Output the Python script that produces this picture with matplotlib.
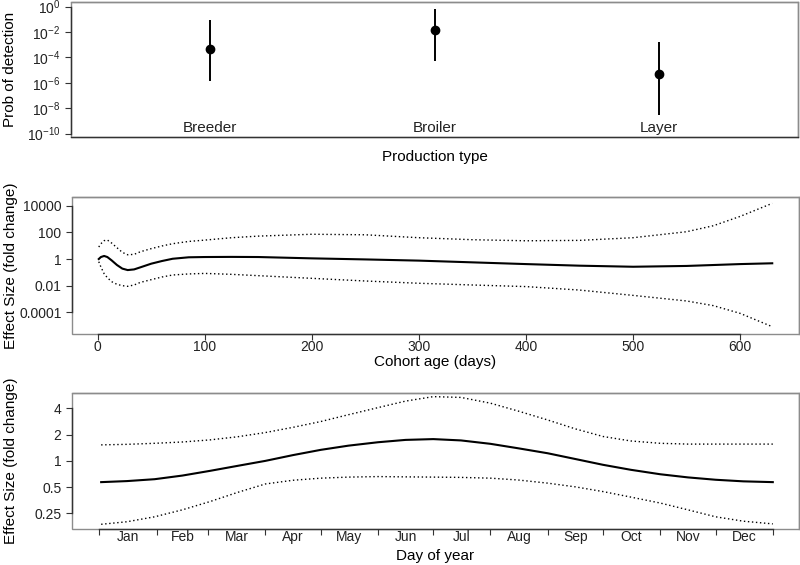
import numpy as np
import matplotlib
matplotlib.use("Agg")
import matplotlib.pyplot as plt
from matplotlib.patches import Rectangle
import matplotlib.transforms as mtransforms

plt.rcParams['font.family'] = ['Liberation Sans', 'DejaVu Sans']
plt.rcParams['mathtext.fontset'] = 'custom'
plt.rcParams['mathtext.rm'] = 'Liberation Sans'
plt.rcParams['mathtext.it'] = 'Liberation Sans'
plt.rcParams['mathtext.bf'] = 'Liberation Sans'

# ---------------- data ----------------
# Panel 1: probability of detection by production type
prod_types = ["Breeder", "Broiler", "Layer"]
prob_est = [4.7e-4, 1.5e-2, 5.0e-6]
prob_low = [1.5e-6, 5.2e-5, 3.0e-9]
prob_high = [8.9e-2, 6.3e-1, 1.6e-3]
prob_ticks = [1e0, 1e-2, 1e-4, 1e-6, 1e-8, 1e-10]
prob_ticklabels = [r"$10^{0}$", r"$10^{-2}$", r"$10^{-4}$", r"$10^{-6}$",
                   r"$10^{-8}$", r"$10^{-10}$"]

# Panel 2: cohort age effect (log10 fold change)
age_days = [1, 3, 6, 9, 13, 18, 23, 28, 34, 40, 50, 60, 70, 85, 100, 125,
            150, 200, 250, 300, 350, 400, 450, 500, 550, 575, 600, 630]
age_fit_log10 = [0.0, 0.15, 0.23, 0.15, -0.1, -0.45, -0.72, -0.83, -0.78,
                 -0.62, -0.35, -0.15, 0.02, 0.13, 0.15, 0.16, 0.15, 0.05,
                 -0.03, -0.12, -0.25, -0.38, -0.5, -0.58, -0.52, -0.45,
                 -0.38, -0.32]
age_upper_log10 = [0.9, 1.15, 1.38, 1.43, 1.2, 0.85, 0.5, 0.32, 0.35, 0.55,
                   0.78, 0.98, 1.15, 1.32, 1.42, 1.6, 1.72, 1.86, 1.82, 1.6,
                   1.45, 1.37, 1.4, 1.6, 2.05, 2.5, 3.2, 4.18]
age_lower_log10 = [-0.2, -0.6, -1.1, -1.4, -1.7, -1.9, -2.0, -2.05, -1.95,
                   -1.75, -1.55, -1.35, -1.2, -1.12, -1.08, -1.15, -1.25,
                   -1.45, -1.65, -1.82, -1.95, -2.07, -2.33, -2.73, -3.15,
                   -3.5, -4.08, -5.08]
age_ticks = [0, 100, 200, 300, 400, 500, 600]
age_yticks = [1e4, 1e2, 1, 1e-2, 1e-4]
age_yticklabels = ["10000", "100", "1", "0.01", "0.0001"]

# Panel 3: day-of-year effect (fold change)
doy = [1, 15, 30, 45, 60, 75, 90, 105, 120, 135, 151, 166, 181, 196, 212,
       227, 243, 258, 273, 288, 304, 319, 334, 349, 365]
doy_fit = [0.570, 0.586, 0.616, 0.678, 0.768, 0.877, 1.0, 1.165, 1.338,
           1.495, 1.636, 1.741, 1.778, 1.717, 1.569, 1.395, 1.223, 1.050,
           0.901, 0.790, 0.702, 0.646, 0.607, 0.582, 0.570]
doy_upper = [1.526, 1.548, 1.591, 1.647, 1.741, 1.892, 2.114, 2.428, 2.828,
             3.387, 4.084, 4.857, 5.464, 5.352, 4.595, 3.732, 2.948, 2.329,
             1.905, 1.693, 1.591, 1.558, 1.558, 1.558, 1.558]
doy_lower = [0.187, 0.200, 0.228, 0.274, 0.341, 0.435, 0.543, 0.599, 0.633,
             0.651, 0.660, 0.655, 0.651, 0.646, 0.633, 0.603, 0.555, 0.503,
             0.444, 0.384, 0.328, 0.274, 0.228, 0.203, 0.189]
month_starts = [0, 31, 59, 90, 120, 151, 181, 212, 243, 273, 304, 334, 365]
month_names = ["Jan", "Feb", "Mar", "Apr", "May", "Jun", "Jul", "Aug",
               "Sep", "Oct", "Nov", "Dec"]
doy_yticks = [0.25, 0.5, 1, 2, 4]
doy_yticklabels = ["0.25", "0.5", "1", "2", "4"]

# ---------------- styling helpers ----------------
BOX = "#8c8c8c"
AX = "#333333"
TICK_FS = 10
LAB_FS = 11
YLAB_X = -0.074


def style_box(ax, xbounds=None, ybounds=None):
    for s in ax.spines.values():
        s.set_color(BOX)
        s.set_linewidth(1.0)
    ax.add_patch(Rectangle((0, 0), 1, 1, transform=ax.transAxes, fill=False,
                           edgecolor=BOX, lw=1.0, zorder=0.5, clip_on=False))
    if ybounds is not None:
        ax.spines['left'].set_bounds(*ybounds)
        ax.spines['left'].set_color(AX)
    if xbounds is not None:
        ax.spines['bottom'].set_bounds(*xbounds)
        ax.spines['bottom'].set_color(AX)
    ax.tick_params(direction='out', length=4, width=0.8, color=AX,
                   labelsize=TICK_FS, labelcolor="#222222")
    ax.minorticks_off()


fig = plt.figure(figsize=(8, 5.65), dpi=100)
W, H = 800, 565


def add_axes(x0, y0, x1, y1):
    return fig.add_axes([x0 / W, 1 - y1 / H, (x1 - x0) / W, (y1 - y0) / H])


# ---------------- panel 1 ----------------
ax1 = add_axes(71, 1.7, 798, 136.7)
ax1.set_yscale('log')
xs = np.arange(len(prod_types))
est = np.array(prob_est)
yerr = [est - np.array(prob_low), np.array(prob_high) - est]
ax1.errorbar(xs, est, yerr=yerr, fmt='o', color='black', ms=6, elinewidth=1.4,
             capsize=0)
ax1.set_xlim(-0.62, 2.62)
ax1.set_ylim(10 ** -10.24, 10 ** 0.39)
ax1.set_yticks(prob_ticks)
ax1.set_yticklabels(prob_ticklabels)
ax1.set_xticks([])
style_box(ax1, ybounds=(1e-10, 1e0))
ax1.spines['bottom'].set_color(AX)
trans = mtransforms.blended_transform_factory(ax1.transData, ax1.transAxes)
for i, name in enumerate(prod_types):
    ax1.text(i, 0.067, name, transform=trans, ha='center', va='center',
             fontsize=11, color="#222222")
ax1.set_ylabel("Prob of detection", fontsize=LAB_FS)
ax1.yaxis.set_label_coords(YLAB_X, 0.5)
ax1.set_xlabel("Production type", fontsize=LAB_FS)
ax1.xaxis.set_label_coords(0.5, -0.10)

# ---------------- panel 2 ----------------
ax2 = add_axes(72, 196.7, 799, 334)
ax2.set_yscale('log')
ad = np.array(age_days)
ax2.plot(ad, 10 ** np.array(age_fit_log10), color='black', lw=1.5)
ax2.plot(ad, 10 ** np.array(age_upper_log10), color='black', lw=1.0,
         linestyle=(0, (1, 1.9)))
ax2.plot(ad, 10 ** np.array(age_lower_log10), color='black', lw=1.0,
         linestyle=(0, (1, 1.9)))
ax2.set_xlim(-24, 655)
ax2.set_ylim(10 ** -5.63, 10 ** 4.68)
ax2.set_xticks(age_ticks)
ax2.set_yticks(age_yticks)
ax2.set_yticklabels(age_yticklabels)
style_box(ax2, xbounds=(0, 600), ybounds=(1e-4, 1e4))
ax2.tick_params(axis='x', pad=0.5)
ax2.set_ylabel("Effect Size (fold change)", fontsize=LAB_FS)
ax2.yaxis.set_label_coords(YLAB_X, 0.5)
ax2.set_xlabel("Cohort age (days)", fontsize=LAB_FS)
ax2.xaxis.set_label_coords(0.5, -0.15)

# ---------------- panel 3 ----------------
ax3 = add_axes(72, 392.7, 799, 529.3)
ax3.set_yscale('log')
ax3.plot(doy, doy_fit, color='black', lw=1.5)
ax3.plot(doy, doy_upper, color='black', lw=1.0, linestyle=(0, (1, 1.9)))
ax3.plot(doy, doy_lower, color='black', lw=1.0, linestyle=(0, (1, 1.9)))
ax3.set_xlim(-14.8, 379.2)
ax3.set_ylim(2 ** -2.61, 2 ** 2.6)
ax3.set_yticks(doy_yticks)
ax3.set_yticklabels(doy_yticklabels)
ax3.set_xticks(month_starts)
ax3.set_xticklabels([])
mids = [(month_starts[i] + month_starts[i + 1]) / 2 for i in range(12)]
style_box(ax3, xbounds=(0, 365), ybounds=(0.25, 4))
ax3.set_xticks(mids, minor=True)
ax3.set_xticklabels(month_names, minor=True)
ax3.tick_params(axis='x', which='minor', length=0, pad=0.5,
                labelsize=TICK_FS, labelcolor="#222222")
ax3.set_ylabel("Effect Size (fold change)", fontsize=LAB_FS)
ax3.yaxis.set_label_coords(YLAB_X, 0.5)
ax3.set_xlabel("Day of year", fontsize=LAB_FS)
ax3.xaxis.set_label_coords(0.5, -0.145)

fig.savefig("out.png", dpi=100)
